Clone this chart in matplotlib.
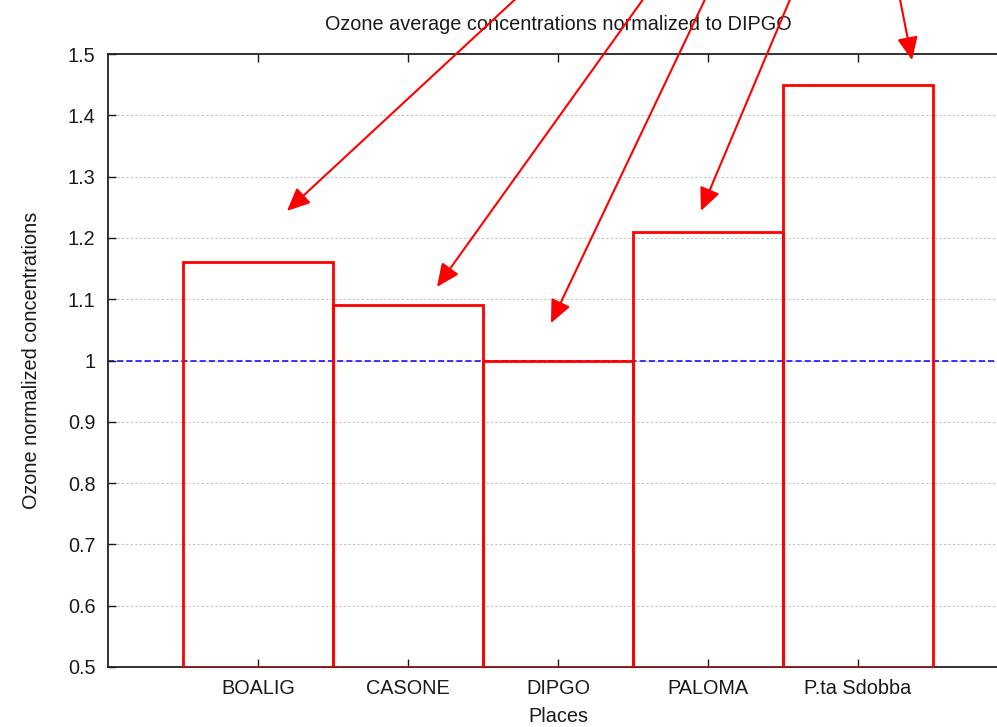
import matplotlib
matplotlib.use("Agg")
import matplotlib.pyplot as plt
from matplotlib.ticker import FuncFormatter

places = ["BOALIG", "CASONE", "DIPGO", "PALOMA", "P.ta Sdobba"]
values = [1.16, 1.09, 1.00, 1.21, 1.45]
reference_level = 1.0
y_ticks = [0.5, 0.6, 0.7, 0.8, 0.9, 1.0, 1.1, 1.2, 1.3, 1.4, 1.5]
# arrow annotations: tips and tails in data coordinates
arrow_tip_x = [1.193, 2.193, 2.953, 3.953, 5.36]
arrow_tip_y = [1.244, 1.120, 1.061, 1.244, 1.490]
arrow_tail_x = [2.85, 3.657, 4.04, 4.60, 5.255]
arrow_tail_y = [1.62, 1.62, 1.62, 1.62, 1.62]

plt.rcParams['font.family'] = ['Liberation Sans', 'DejaVu Sans']
FS = 14.3
TXT = '#1a1a1a'

W, H = 997, 727
fig = plt.figure(figsize=(W / 100, H / 100), dpi=100)
left, right, top, bottom = 108, 1008, 54, 667
ax = fig.add_axes([left / W, (H - bottom) / H, (right - left) / W, (bottom - top) / H])

xs = list(range(1, len(places) + 1))
ax.set_xlim(0, 6)
ax.set_ylim(0.5, 1.5)

for y in y_ticks[1:-1]:
    ax.axhline(y, color='#c4c4c4', lw=0.8, ls=(0, (2, 2)), zorder=0)

ax.axhline(reference_level, color='#0000ff', lw=1.1, ls=(0, (4, 2)), zorder=1)

ax.bar(xs, [v - 0.5 for v in values], bottom=0.5, width=1.0,
       facecolor='none', edgecolor='#ff0000', linewidth=2.0, zorder=3)

for tx, ty, sx, sy in zip(arrow_tip_x, arrow_tip_y, arrow_tail_x, arrow_tail_y):
    ax.annotate('', xy=(tx, ty), xytext=(sx, sy), xycoords='data', textcoords='data',
                annotation_clip=False,
                arrowprops=dict(arrowstyle='-|>,head_length=1.0,head_width=0.45',
                                mutation_scale=14,
                                color='#ff0000', lw=1.5, shrinkA=0, shrinkB=0),
                zorder=5)

ax.set_xticks(xs)
ax.set_xticklabels(places)
ax.set_yticks(y_ticks)
ax.yaxis.set_major_formatter(FuncFormatter(lambda v, p: '%g' % round(v, 2)))
ax.tick_params(axis='both', direction='in', length=6, width=1.0, labelsize=FS,
               colors=TXT, pad=9)
ax.tick_params(axis='x', top=True, pad=9)
ax.tick_params(axis='y', right=True)

for s in ax.spines.values():
    s.set_linewidth(1.3)
    s.set_color('#222222')

ax.set_title('Ozone average concentrations normalized to DIPGO', fontsize=FS,
             color=TXT, pad=17)
ax.set_xlabel('Places', fontsize=FS, color=TXT, labelpad=6)
ax.set_ylabel('Ozone normalized concentrations', fontsize=FS, color=TXT, labelpad=19)

fig.savefig('out.png', dpi=100)
